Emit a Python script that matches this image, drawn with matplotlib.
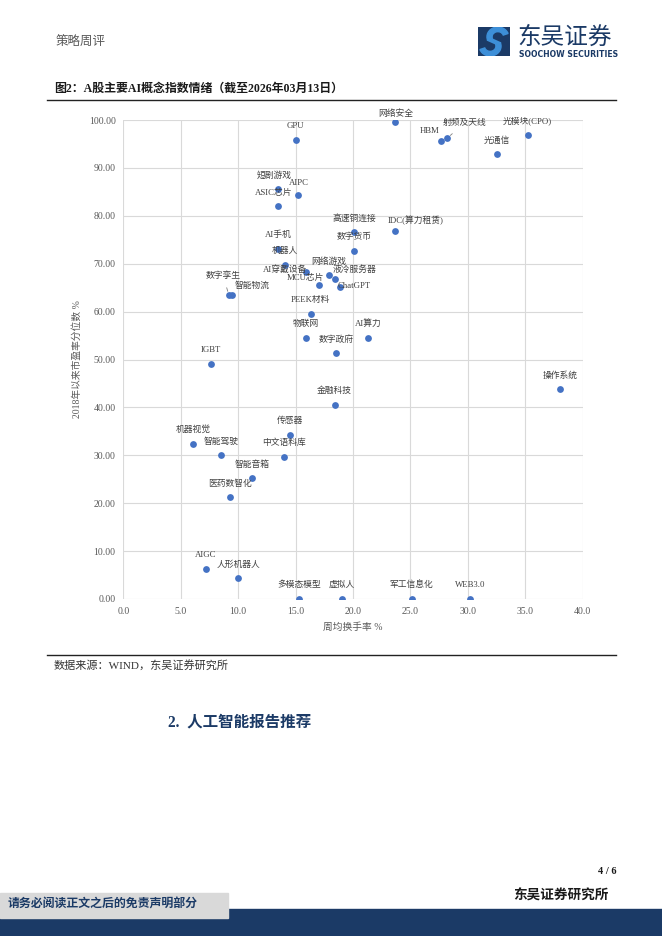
import matplotlib
matplotlib.use("Agg")
import matplotlib.pyplot as plt
from matplotlib.patches import Rectangle, Wedge

plt.rcParams['font.family'] = ['Liberation Serif', 'Noto Sans CJK SC', 'DejaVu Sans']

W, H = 662, 936

# concept index: name, weekly avg turnover %, PE percentile since 2018 %
names = ['GPU', '短剧游戏', 'AIPC', 'ASIC芯片', 'AI手机', '机器人', 'AI穿戴设备',
         'MCU芯片', '数字孪生', '智能物流', '网络安全', 'HBM', '射频及天线',
         '光模块(CPO)', '光通信', '高速铜连接', 'IDC(算力租赁)', '数字货币',
         '网络游戏', '液冷服务器', 'ChatGPT', 'PEEK材料', '物联网', '数字政府',
         'AI算力', 'IGBT', '金融科技', '操作系统', '机器视觉', '智能驾驶',
         '传感器', '中文语料库', '智能音箱', '医药数智化', 'AIGC', '人形机器人',
         '多模态模型', '虚拟人', '军工信息化', 'WEB3.0']
turnover = [15.0, 13.5, 15.2, 13.5, 13.5, 14.1, 15.9,
            17.0, 9.2, 9.5, 23.7, 27.7, 28.2,
            35.2, 32.5, 20.1, 23.7, 20.1,
            17.9, 18.4, 18.9, 16.3, 15.9, 18.5,
            21.3, 7.6, 18.4, 38.0, 6.1, 8.5,
            14.5, 14.0, 11.2, 9.3, 7.2, 10.0,
            15.3, 19.0, 25.1, 30.2]
pe_pct = [95.8, 85.5, 84.4, 82.0, 73.1, 69.7, 68.3,
          65.5, 63.4, 63.4, 99.6, 95.7, 96.2,
          96.9, 92.8, 76.6, 76.9, 72.6,
          67.6, 66.9, 65.1, 59.6, 54.5, 51.3,
          54.5, 49.0, 40.6, 43.8, 32.4, 30.0,
          34.2, 29.7, 25.2, 21.2, 6.3, 4.3,
          0.0, 0.0, 0.0, 0.0]

x_ticks = [0, 5, 10, 15, 20, 25, 30, 35, 40]
y_ticks = [0, 10, 20, 30, 40, 50, 60, 70, 80, 90, 100]


def px(x, y):
    return x / W, 1 - y / H


fig = plt.figure(figsize=(W / 100, H / 100), dpi=100)
fig.patch.set_facecolor('white')

navy = '#1b3a66'
grey_txt = '#595959'

# ---- header ----
fig.text(*px(56, 43), '策略周评', fontsize=9, color=grey_txt, va='center', ha='left')

# logo emblem
lax = fig.add_axes([478 / W, 1 - 56 / H, 32 / W, 29 / H])
lax.set_xlim(0, 1)
lax.set_ylim(0, 1)
lax.axis('off')
lax.add_patch(Rectangle((0, 0), 1, 1, color=navy))
lax.add_patch(Wedge((0.62, 0.66), 0.34, 20, 200, width=0.16, color='#3d8fd8'))
lax.add_patch(Wedge((0.38, 0.34), 0.34, 200, 380, width=0.16, color='#3d8fd8'))
lax.plot([0.3, 0.7], [0.6, 0.4], color='#3d8fd8', lw=3.2, solid_capstyle='butt')

fig.text(*px(517, 37), '东吴证券', fontsize=17, color=navy, va='center', ha='left',
         family=['Noto Sans CJK SC'], weight='medium')
fig.text(*px(519, 54.5), 'SOOCHOW SECURITIES', fontsize=5.6, color=navy, va='center',
         ha='left', family=['DejaVu Sans'], weight='bold')

# ---- figure title ----
fig.text(*px(54, 89), '图2：A股主要AI概念指数情绪（截至2026年03月13日）', fontsize=8.6,
         color='#1a1a1a', va='center', ha='left', weight='bold')
fig.add_artist(plt.Line2D([47 / W, 616 / W], [1 - 100 / H] * 2, color='#222222', lw=1.0))

# ---- scatter chart ----
ax = fig.add_axes([123.3 / W, 1 - 599 / H, 459.4 / W, 479 / H])
ax.scatter(turnover, pe_pct, s=24, color='#4472c4', zorder=3, linewidths=0)
ax.set_xlim(0, 40)
ax.set_ylim(0, 100)
ax.set_xticks(x_ticks)
ax.set_yticks(y_ticks)
ax.set_xticklabels(['%.1f' % v for v in x_ticks])
ax.set_yticklabels(['%.2f' % v for v in y_ticks])
ax.tick_params(length=0, labelsize=7, labelcolor=grey_txt, pad=5.5)
ax.grid(True, color='#d9d9d9', lw=0.8)
ax.set_axisbelow(True)
for s in ax.spines.values():
    s.set_visible(False)
ax.set_xlabel('周均换手率 %', fontsize=7, color=grey_txt, labelpad=5)
ax.set_ylabel('2018年以来市盈率分位数 %', fontsize=7, color=grey_txt, labelpad=5)

# label offsets in pixels (default: centred above the dot)
offsets = {
    '短剧游戏': (-4, 14), 'AIPC': (1, 12),
    'ASIC芯片': (-5, 13), 'AI穿戴设备': (-21, 2), 'MCU芯片': (-13, 7),
    '数字孪生': (-6, 20), '智能物流': (20, 10), '网络安全': (0, 8),
    'HBM': (-12, 10), '射频及天线': (17, 15), 'IDC(算力租赁)': (20, 10),
    '液冷服务器': (20, 9), 'ChatGPT': (14, 1),
}
leaders = ['数字孪生', '射频及天线']
for n, xv, yv in zip(names, turnover, pe_pct):
    dx, dy = offsets.get(n, (0, 14))
    kw = {}
    if n in leaders:
        kw['arrowprops'] = dict(arrowstyle='-', color='#7f7f7f', lw=0.6,
                                shrinkA=4, shrinkB=3)
    ax.annotate(n, (xv, yv), xytext=(dx, dy), textcoords='offset pixels',
                ha='center', va='center', fontsize=6.3, color='#404040',
                annotation_clip=False, **kw)

# ---- source ----
fig.add_artist(plt.Line2D([47 / W, 616 / W], [1 - 655 / H] * 2, color='#222222', lw=1.0))
fig.text(*px(54, 665), '数据来源：WIND，东吴证券研究所', fontsize=8, color='#333333',
         va='center', ha='left')

# ---- section heading ----
fig.text(*px(168, 722), '2.  人工智能报告推荐', fontsize=11.2, color=navy, va='center',
         ha='left', weight='bold')

# ---- footer ----
fig.text(*px(616, 872), '4 / 6', fontsize=7.5, color='#1a1a1a', va='center', ha='right',
         weight='bold')
fig.text(*px(609, 896), '东吴证券研究所', fontsize=9.8, color='#1a1a1a', va='center',
         ha='right', weight='bold')
fig.add_artist(Rectangle((0, 0), 1, 27 / H, transform=fig.transFigure, color=navy, zorder=1))
fig.add_artist(Rectangle((0, 1 - 918 / H), 228 / W, 25 / H, transform=fig.transFigure,
                         color='#d9d9d9', zorder=2))
fig.text(*px(8, 905), '请务必阅读正文之后的免责声明部分', fontsize=8.6, color=navy,
         va='center', ha='left', weight='bold', zorder=3)

fig.savefig('out.png', dpi=100)
